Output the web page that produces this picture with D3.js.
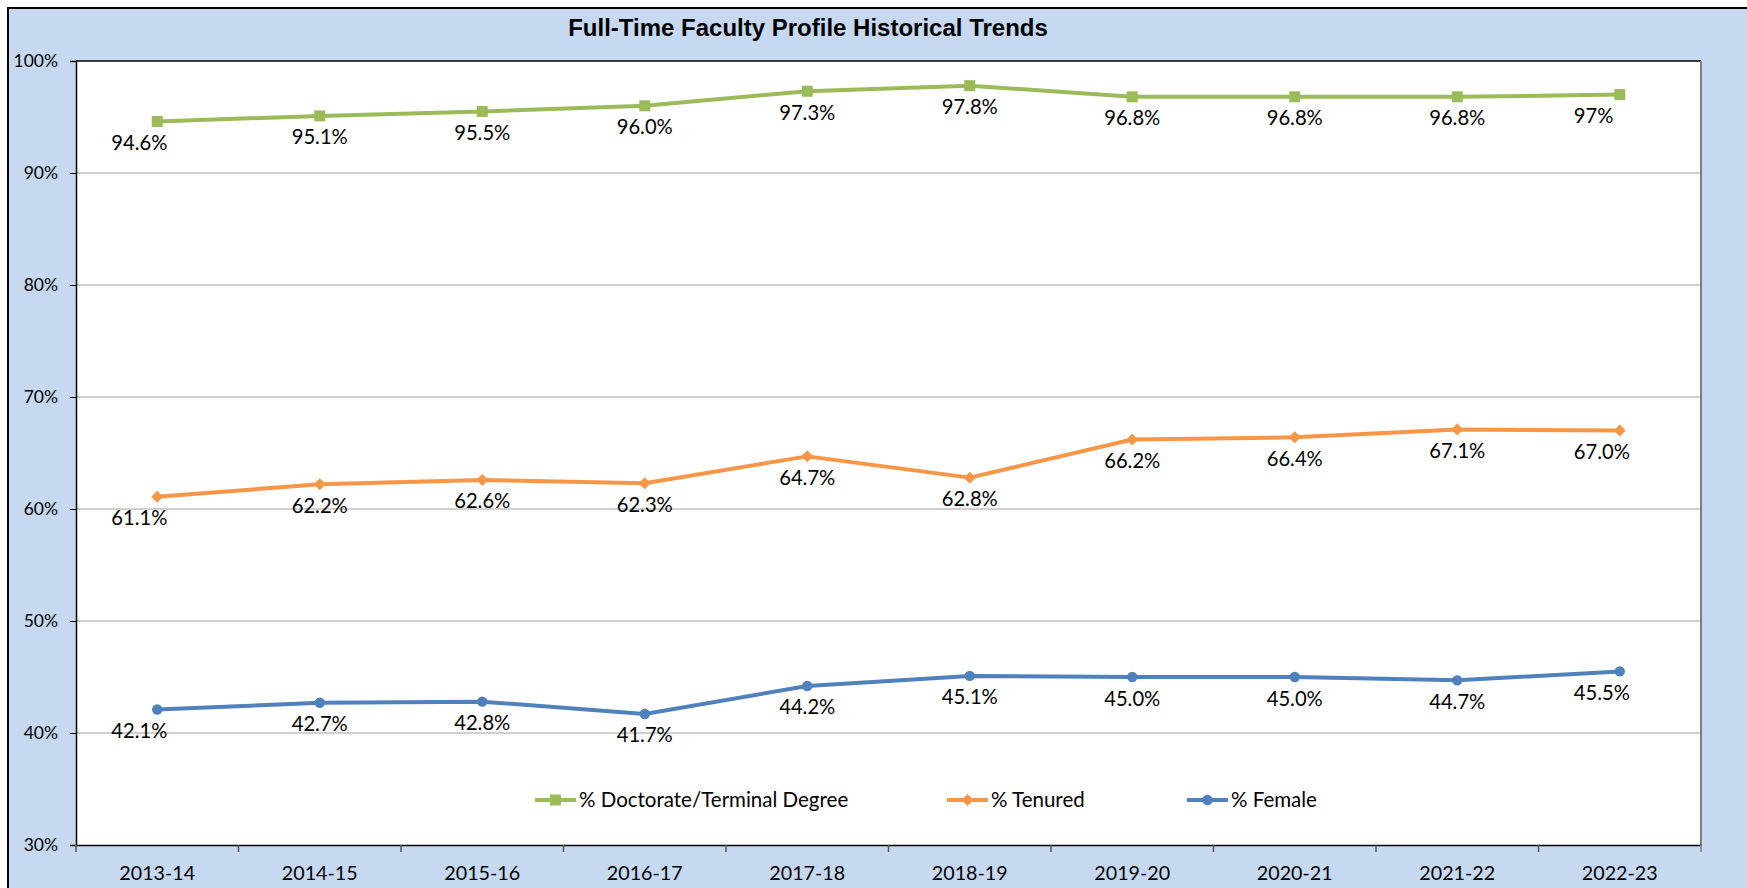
<!DOCTYPE html>
<html>
<head>
<meta charset="utf-8">
<script src="https://cdn.jsdelivr.net/npm/d3@7"></script>
<style>
  body { margin: 0; background: #fff; }
  svg { display: block; }
</style>
</head>
<body>
<svg width="1747" height="888"></svg>
<script>
// chart values
const years = ["2013-14", "2014-15", "2015-16", "2016-17", "2017-18", "2018-19", "2019-20", "2020-21", "2021-22", "2022-23"];
const doctorate = [94.6, 95.1, 95.5, 96.0, 97.3, 97.8, 96.8, 96.8, 96.8, 97.0];
const doctorateLabels = ["94.6%", "95.1%", "95.5%", "96.0%", "97.3%", "97.8%", "96.8%", "96.8%", "96.8%", "97%"];
const tenured = [61.1, 62.2, 62.6, 62.3, 64.7, 62.8, 66.2, 66.4, 67.1, 67.0];
const female = [42.1, 42.7, 42.8, 41.7, 44.2, 45.1, 45.0, 45.0, 44.7, 45.5];
const yTicks = [30, 40, 50, 60, 70, 80, 90, 100];

const series = [
  { name: "% Doctorate/Terminal Degree", values: doctorate, labels: doctorateLabels, color: "#9BBB59", marker: "square" },
  { name: "% Tenured", values: tenured, labels: tenured.map(v => v.toFixed(1) + "%"), color: "#F79646", marker: "diamond" },
  { name: "% Female", values: female, labels: female.map(v => v.toFixed(1) + "%"), color: "#4F81BD", marker: "circle" }
];

const W = 1747, H = 888;
const plot = { left: 76, right: 1701, top: 61, bottom: 845 };
const FONT = "Lato, 'Open Sans', sans-serif";

const svg = d3.select("svg");

// outer chart area
svg.append("rect")
  .attr("x", 8).attr("y", 8)
  .attr("width", W).attr("height", H)
  .attr("fill", "#C6D9F0")
  .attr("stroke", "#000")
  .attr("stroke-width", 2);

svg.append("text")
  .attr("x", 808).attr("y", 36)
  .attr("text-anchor", "middle")
  .attr("font-family", "'Liberation Sans', Arial, sans-serif")
  .attr("font-weight", "bold")
  .attr("font-size", "24px")
  .attr("fill", "#000")
  .text("Full-Time Faculty Profile Historical Trends");

const x = d3.scaleBand().domain(years).range([plot.left, plot.right]);
const y = d3.scaleLinear().domain([30, 100]).range([plot.bottom, plot.top]);
const cx = d => x(d) + x.bandwidth() / 2;

// plot area
svg.append("rect")
  .attr("x", plot.left).attr("y", plot.top)
  .attr("width", plot.right - plot.left)
  .attr("height", plot.bottom - plot.top)
  .attr("fill", "#fff");

// gridlines
svg.append("g")
  .selectAll("line")
  .data(yTicks.slice(1, -1))
  .enter()
  .append("line")
  .attr("x1", plot.left).attr("x2", plot.right)
  .attr("y1", d => y(d)).attr("y2", d => y(d))
  .attr("stroke", "#C0C0C0")
  .attr("stroke-width", 1.5);

// plot border: top black, right gray
svg.append("line")
  .attr("x1", plot.left).attr("x2", plot.right)
  .attr("y1", plot.top).attr("y2", plot.top)
  .attr("stroke", "#000").attr("stroke-width", 1.5);
svg.append("line")
  .attr("x1", plot.right).attr("x2", plot.right)
  .attr("y1", plot.top).attr("y2", plot.bottom)
  .attr("stroke", "#7F7F7F").attr("stroke-width", 2);

// y axis
const yAxis = svg.append("g")
  .attr("transform", `translate(${plot.left},0)`)
  .call(d3.axisLeft(y).tickValues(yTicks).tickFormat(d => d + "%").tickSize(6).tickPadding(12));
yAxis.select(".domain").attr("stroke", "#000").attr("stroke-width", 1.5);
yAxis.selectAll(".tick line").attr("stroke", "#000");
yAxis.selectAll("text")
  .attr("font-family", FONT)
  .attr("font-size", "17.5px")
  .attr("fill", "#000");

// x axis: labels centered, ticks on category boundaries
const xAxis = svg.append("g")
  .attr("transform", `translate(0,${plot.bottom})`)
  .call(d3.axisBottom(x).tickSize(0).tickPadding(21));
xAxis.select(".domain").attr("stroke", "#000").attr("stroke-width", 1.5);
xAxis.selectAll("text")
  .attr("font-family", FONT)
  .attr("font-size", "19.7px")
  .attr("fill", "#000");
svg.append("g")
  .selectAll("line")
  .data(years.concat(["end"]))
  .enter()
  .append("line")
  .attr("x1", d => d === "end" ? plot.right : x(d))
  .attr("x2", d => d === "end" ? plot.right : x(d))
  .attr("y1", plot.bottom).attr("y2", plot.bottom + 7)
  .attr("stroke", (d, i) => i === years.length ? "#7F7F7F" : "#555")
  .attr("stroke-width", 1.5);

// marker shapes
function marker(type) {
  if (type === "square") return d3.symbol().type(d3.symbolSquare).size(121)();
  if (type === "diamond") return "M0,-6L6,0L0,6L-6,0Z";
  return d3.symbol().type(d3.symbolCircle).size(85)();
}

const line = d3.line().x((d, i) => cx(years[i])).y(d => y(d));

series.forEach(s => {
  const g = svg.append("g");
  g.append("path")
    .datum(s.values)
    .attr("d", line)
    .attr("fill", "none")
    .attr("stroke", s.color)
    .attr("stroke-width", 4)
    .attr("stroke-linejoin", "round");

  g.selectAll("path.pt")
    .data(s.values)
    .enter()
    .append("path")
    .attr("class", "pt")
    .attr("d", marker(s.marker))
    .attr("transform", (d, i) => `translate(${cx(years[i])},${y(d)})`)
    .attr("fill", s.color);

  // data labels below points; first and last nudged left like the source
  g.selectAll("text")
    .data(s.values)
    .enter()
    .append("text")
    .attr("x", (d, i) => cx(years[i]) + (i === 0 || i === years.length - 1 ? -46 : 0))
    .attr("y", d => y(d) + 28.5)
    .attr("text-anchor", (d, i) => (i === 0 || i === years.length - 1 ? "start" : "middle"))
    .attr("font-family", FONT)
    .attr("font-size", "20.2px")
    .attr("fill", "#000")
    .text((d, i) => s.labels[i]);
});

// legend
const legendX = [535, 947, 1187];
const legend = svg.append("g")
  .selectAll("g")
  .data(series)
  .enter()
  .append("g")
  .attr("transform", (d, i) => `translate(${legendX[i]},800)`);
legend.append("line")
  .attr("x1", 0).attr("x2", 41)
  .attr("stroke", d => d.color)
  .attr("stroke-width", 4);
legend.append("path")
  .attr("d", d => marker(d.marker))
  .attr("transform", "translate(20.5,0)")
  .attr("fill", d => d.color);
legend.append("text")
  .attr("x", 44)
  .attr("y", 7)
  .attr("font-family", FONT)
  .attr("font-size", "20.5px")
  .attr("fill", "#000")
  .text(d => d.name);
</script>
</body>
</html>
